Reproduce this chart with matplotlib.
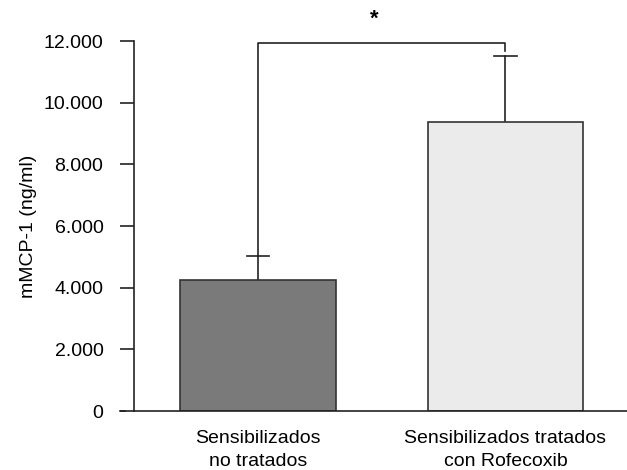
import matplotlib
matplotlib.use("Agg")
import matplotlib.pyplot as plt
from matplotlib.transforms import blended_transform_factory, ScaledTranslation

plt.rcParams['font.family'] = ['Liberation Sans', 'DejaVu Sans']

categories = ["Sensibilizados\nno tratados", "Sensibilizados tratados\ncon Rofecoxib"]
values = [4250, 9380]
errors = [780, 2130]
bar_colors = ["#7a7a7a", "#ebebeb"]
yticks = [0, 2000, 4000, 6000, 8000, 10000, 12000]
ytick_labels = ["0", "2.000", "4.000", "6.000", "8.000", "10.000", "12.000"]
bracket_y = 11940
star = "*"

fig = plt.figure(figsize=(6.27, 4.70), dpi=100)
ax = fig.add_axes([134/627, 59/470, 1 - 134/627, 370/470])

x = [0, 1]
ax.bar(x, values, width=0.63, color=bar_colors, edgecolor="#333333", linewidth=1.2, zorder=2)
for xi, v, e in zip(x, values, errors):
    ax.plot([xi, xi], [v, v + e], color="#222222", lw=1.2, zorder=1)
    ax.plot([xi - 0.045, xi + 0.045], [v + e, v + e], color="#222222", lw=1.2, zorder=1)

# significance bracket
x0, x1 = x[0], x[1]
ax.plot([x0, x0, x1, x1], [values[0] + errors[0], bracket_y, bracket_y, values[1] + errors[1] + 150],
        color="#222222", lw=1.2, clip_on=False)
ax.text((x[0] + x[1]) / 2 - 0.03, bracket_y + 420, star, ha="center", va="bottom", fontsize=16, fontweight="bold")

ax.set_xlim(-0.501, 1.491)
ax.set_ylim(0, 12000)
ax.set_yticks(yticks)
ax.set_yticklabels(ytick_labels, fontsize=14)
ax.set_xticks(x)
ax.set_xticklabels(categories, fontsize=14, linespacing=1.4)
ax.tick_params(axis='x', length=0, pad=14)
ax.tick_params(axis='y', direction='out', length=10, width=1.2, pad=12, color="#222222")
for s in ["top", "right"]:
    ax.spines[s].set_visible(False)
for s in ["left", "bottom"]:
    ax.spines[s].set_linewidth(1.2)
    ax.spines[s].set_color("#222222")

# extend bottom axis line to the left under the tick
trans = blended_transform_factory(ax.transAxes, ax.transData)
off = ScaledTranslation(-14/100, 0, fig.dpi_scale_trans)
ax.plot([0, 0.01], [0, 0], color="#222222", lw=1.2, clip_on=False, transform=trans + off)

ax.set_ylabel("mMCP-1 (ng/ml)", fontsize=14, labelpad=5)

fig.savefig("out.png", dpi=100)
